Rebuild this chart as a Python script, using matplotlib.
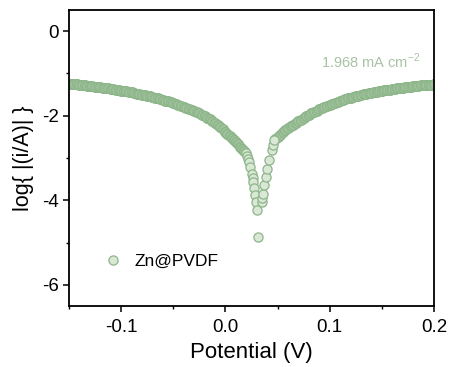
import matplotlib
matplotlib.use("Agg")
import matplotlib.pyplot as plt
from matplotlib.lines import Line2D
from matplotlib.ticker import MultipleLocator

plt.rcParams['font.family'] = ['Liberation Sans', 'DejaVu Sans']
plt.rcParams['axes.unicode_minus'] = False
plt.rcParams['mathtext.fontset'] = 'custom'
plt.rcParams['mathtext.rm'] = 'Liberation Sans'

# cathodic branch, potential (V) / log|i|
left_v = [
    -0.1500, -0.1475, -0.1450, -0.1425, -0.1400, -0.1375, -0.1350, -0.1325, -0.1300, -0.1275,
    -0.1250, -0.1225, -0.1200, -0.1175, -0.1150, -0.1125, -0.1100, -0.1075, -0.1050, -0.1025,
    -0.1000, -0.0975, -0.0950, -0.0925, -0.0900, -0.0875, -0.0850, -0.0825, -0.0800, -0.0775,
    -0.0750, -0.0725, -0.0700, -0.0675, -0.0650, -0.0625, -0.0600, -0.0575, -0.0550, -0.0525,
    -0.0500, -0.0475, -0.0450, -0.0425, -0.0400, -0.0375, -0.0350, -0.0325, -0.0300, -0.0275,
    -0.0250, -0.0225, -0.0200, -0.0175, -0.0150, -0.0125, -0.0100, -0.0075, -0.0050, -0.0025,
    0.0000, 0.0020, 0.0040, 0.0060, 0.0080, 0.0100, 0.0120, 0.0140, 0.0160, 0.0180,
]
left_y = [
    -1.240, -1.245, -1.252, -1.260, -1.267, -1.274, -1.281, -1.289, -1.297, -1.304,
    -1.312, -1.320, -1.329, -1.338, -1.347, -1.356, -1.366, -1.375, -1.385, -1.395,
    -1.405, -1.416, -1.427, -1.438, -1.450, -1.462, -1.475, -1.488, -1.501, -1.515,
    -1.529, -1.544, -1.559, -1.574, -1.590, -1.606, -1.623, -1.641, -1.659, -1.678,
    -1.698, -1.718, -1.739, -1.761, -1.784, -1.808, -1.833, -1.859, -1.886, -1.914,
    -1.944, -1.975, -2.008, -2.043, -2.080, -2.120, -2.163, -2.210, -2.262, -2.320,
    -2.385, -2.430, -2.480, -2.530, -2.580, -2.630, -2.680, -2.730, -2.780, -2.830,
]
# points around the corrosion potential
dip_v = [
    0.0200, 0.0210, 0.0220, 0.0230, 0.0240, 0.0251, 0.0260, 0.0266, 0.0275, 0.0285,
    0.0294, 0.0302, 0.0313,
    0.0347, 0.0355, 0.0362, 0.0372, 0.0385, 0.0400, 0.0419, 0.0442, 0.0455, 0.0467,
]
dip_y = [
    -2.89, -2.95, -3.02, -3.10, -3.21, -3.37, -3.48, -3.56, -3.72, -3.88,
    -4.04, -4.22, -4.88,
    -4.04, -3.94, -3.84, -3.64, -3.45, -3.25, -3.05, -2.82, -2.70, -2.58,
]
# anodic branch
right_v = [
    0.0475, 0.0500, 0.0525, 0.0550, 0.0575, 0.0600, 0.0625, 0.0650, 0.0675, 0.0700,
    0.0725, 0.0750, 0.0775, 0.0800, 0.0825, 0.0850, 0.0875, 0.0900, 0.0925, 0.0950,
    0.0975, 0.1000, 0.1025, 0.1050, 0.1075, 0.1100, 0.1125, 0.1150, 0.1175, 0.1200,
    0.1225, 0.1250, 0.1275, 0.1300, 0.1325, 0.1350, 0.1375, 0.1400, 0.1425, 0.1450,
    0.1475, 0.1500, 0.1525, 0.1550, 0.1575, 0.1600, 0.1625, 0.1650, 0.1675, 0.1700,
    0.1725, 0.1750, 0.1775, 0.1800, 0.1825, 0.1850, 0.1875, 0.1900, 0.1925, 0.1950,
    0.1975, 0.2000,
]
right_y = [
    -2.560, -2.500, -2.445, -2.395, -2.348, -2.302, -2.255, -2.212, -2.172, -2.132,
    -2.092, -2.053, -2.016, -1.980, -1.945, -1.911, -1.879, -1.848, -1.818, -1.790,
    -1.763, -1.738, -1.714, -1.691, -1.669, -1.648, -1.628, -1.609, -1.591, -1.574,
    -1.558, -1.542, -1.527, -1.512, -1.498, -1.484, -1.471, -1.458, -1.446, -1.434,
    -1.423, -1.412, -1.401, -1.391, -1.381, -1.371, -1.362, -1.353, -1.344, -1.336,
    -1.328, -1.320, -1.312, -1.305, -1.298, -1.291, -1.285, -1.279, -1.273, -1.268,
    -1.263, -1.258,
]
series_label = "Zn@PVDF"
icorr_text = "1.968 mA cm$^{-2}$"

edge = '#8db58a'
face = '#d9e7d5'
ms = 7.0

fig = plt.figure(figsize=(4.5, 3.67), dpi=100)
ax = fig.add_axes([0.1533, 0.1662, 0.8111, 0.8066])

# dense tails overlap into a solid band; the sparse points near E_corr stay open
ax.plot(left_v, left_y, 'o', ls='none', ms=ms, mfc='#9fc29b', mec=edge, mew=0.9)
ax.plot(right_v, right_y, 'o', ls='none', ms=ms, mfc='#9fc29b', mec=edge, mew=0.9)
ax.plot(dip_v, dip_y, 'o', ls='none', ms=6.6, mfc=face, mec=edge, mew=0.9)

ax.text(0.187, -0.72, icorr_text, color='#a9c2a5', fontsize=10.5, ha='right', va='center')

ax.set_xlim(-0.15, 0.2)
ax.set_ylim(-6.5, 0.5)
ax.xaxis.set_major_locator(MultipleLocator(0.1))
ax.xaxis.set_minor_locator(MultipleLocator(0.05))
ax.yaxis.set_major_locator(MultipleLocator(2))
ax.yaxis.set_minor_locator(MultipleLocator(1))
ax.tick_params(which='major', direction='out', length=4, width=1.1, labelsize=13.5)
ax.tick_params(axis='x', which='major', pad=5.5)
ax.tick_params(which='minor', direction='out', length=2.5, width=1.0)
for s in ax.spines.values():
    s.set_linewidth(1.3)

ax.set_xlabel("Potential (V)", fontsize=16, labelpad=4)
ax.set_ylabel("log{ |(i/A)| }", fontsize=15.5)
ax.yaxis.set_label_coords(-0.097, 0.5)

handle = Line2D([], [], marker='o', ls='none', ms=6.6, mfc=face, mec=edge, mew=0.9)
ax.legend([handle], [series_label], loc='center left', bbox_to_anchor=(0.03, 0.152),
          frameon=False, fontsize=12.5, handletextpad=0.25, markerscale=1.0)

fig.savefig("out.png", dpi=100)
